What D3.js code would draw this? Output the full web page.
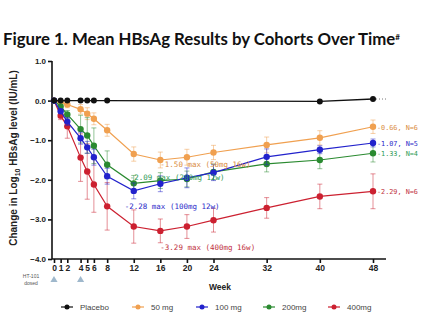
<!DOCTYPE html>
<html>
<head>
<meta charset="utf-8">
<script src="https://cdn.jsdelivr.net/npm/d3@7"></script>
<style>
  body { margin: 0; background: #fff; }
  svg { display: block; }
  .axis path, .axis line { stroke: #111; stroke-width: 1.6; }
  .axis text { font-family: "Liberation Sans", Arial, sans-serif; font-weight: bold; font-size: 8px; fill: #222; }
  .note { font-family: "DejaVu Sans Mono", monospace; font-size: 7.5px; }
</style>
</head>
<body>
<script>
// weeks on the x axis
var weeks = [0, 1, 2, 4, 5, 6, 8, 12, 16, 20, 24, 32, 40, 48];
var yTicks = [1, 0, -1, -2, -3, -4];

// placebo only has points early and late
var placeboWeeks = [0, 1, 2, 4, 5, 6, 8, 40, 48];
var placeboMean = [0, 0, 0, 0, 0, 0, 0, -0.02, 0.04];

// mean change and error (SD) per cohort
var mg50Mean = [0, -0.04, -0.1, -0.22, -0.33, -0.46, -0.75, -1.35, -1.5, -1.43, -1.31, -1.12, -0.94, -0.66];
var mg50Err = [0, 0.05, 0.08, 0.12, 0.15, 0.15, 0.15, 0.18, 0.2, 0.2, 0.18, 0.2, 0.18, 0.17];
var mg100Mean = [0, -0.27, -0.53, -0.95, -1.18, -1.43, -1.91, -2.28, -2.1, -1.95, -1.82, -1.42, -1.24, -1.07];
var mg100Err = [0, 0.05, 0.1, 0.15, 0.15, 0.2, 0.2, 0.2, 0.2, 0.25, 0.2, 0.2, 0.1, 0.1];
var mg200Mean = [0, -0.15, -0.35, -0.72, -0.88, -1.14, -1.62, -2.09, -2.02, -1.98, -1.8, -1.6, -1.5, -1.33];
var mg200Err = [0, 0.05, 0.1, 0.35, 0.45, 0.45, 0.35, 0.2, 0.2, 0.2, 0.2, 0.2, 0.22, 0.22];
var mg400Mean = [0, -0.38, -0.65, -1.44, -1.79, -2.12, -2.67, -3.18, -3.29, -3.18, -3.02, -2.71, -2.42, -2.29];
var mg400Err = [0, 0.1, 0.3, 0.6, 0.7, 0.7, 0.6, 0.42, 0.3, 0.3, 0.3, 0.26, 0.31, 0.44];

var legendNames = ["Placebo", "50 mg", "100 mg", "200mg", "400mg"];
var endLabels = ["-0.66, N=6", "-1.07, N=5", "-1.33, N=4", "-2.29, N=6"];

var width = 438, height = 315;

var x = d3.scaleLinear().domain([0, 48]).range([54, 373]);
var y = d3.scaleLinear().domain([-4, 1]).range([259, 61]);

var svg = d3.select("body").append("svg")
    .attr("width", width)
    .attr("height", height);

// title
var title = svg.append("text")
    .attr("x", 3).attr("y", 45)
    .style("font-family", "Lato, 'Open Sans', sans-serif")
    .style("font-weight", "bold")
    .style("font-size", "16.8px")
    .attr("fill", "#111")
    .text("Figure 1. Mean HBsAg Results by Cohorts Over Time");
title.append("tspan").attr("dy", -5).style("font-size", "8px").text("#");

// y axis label
var yl = svg.append("text")
    .attr("transform", "translate(17,158) rotate(-90)")
    .attr("text-anchor", "middle")
    .style("font-family", "'Liberation Sans', Arial, sans-serif")
    .style("font-weight", "bold")
    .style("font-size", "10px")
    .attr("fill", "#222");
yl.append("tspan").text("Change in Log");
yl.append("tspan").attr("dy", 2.5).style("font-size", "7px").text("10");
yl.append("tspan").attr("dy", -2.5).text(" HBsAg level (IU/mL)");

// axes
var yAxis = d3.axisLeft(y).tickValues(yTicks).tickFormat(d3.format(".1f")).tickSize(4).tickPadding(2);
var xAxis = d3.axisBottom(x).tickValues(weeks).tickSize(4).tickPadding(2);

svg.append("g").attr("class", "axis y")
    .attr("transform", "translate(52,0)")
    .call(yAxis)
    .call(function(g) { g.select(".domain").attr("d", "M0," + y(1) + "V" + y(-4)); });

svg.append("g").attr("class", "axis x")
    .attr("transform", "translate(0," + y(-4) + ")")
    .call(xAxis)
    .call(function(g) { g.select(".domain").attr("d", "M52,0H386"); })
    .selectAll("text").style("font-size", "8.5px");

svg.append("text")
    .attr("x", 220).attr("y", 290)
    .attr("text-anchor", "middle")
    .style("font-family", "'Liberation Sans', Arial, sans-serif")
    .style("font-weight", "bold").style("font-size", "8.5px")
    .attr("fill", "#222")
    .text("Week");

// dosing triangles at week 0 and 4
var doseWeeks = [0, 4];
svg.selectAll(".dose").data(doseWeeks).enter().append("path")
    .attr("class", "dose")
    .attr("d", d3.symbol().type(d3.symbolTriangle).size(22))
    .attr("transform", function(d) { return "translate(" + x(d) + ",280)"; })
    .attr("fill", "#9fb8cc");
svg.append("text").attr("x", 31).attr("y", 278).attr("text-anchor", "middle")
    .style("font-family", "'Liberation Sans', Arial, sans-serif").style("font-size", "5px")
    .attr("fill", "#555").text("HT-101");
svg.append("text").attr("x", 31).attr("y", 285).attr("text-anchor", "middle")
    .style("font-family", "'Liberation Sans', Arial, sans-serif").style("font-size", "5px")
    .attr("fill", "#555").text("dosed");

// series
var series = [
  {name: legendNames[1], color: "#f0a050", text: "#d98a3c", mean: mg50Mean, err: mg50Err},
  {name: legendNames[4], color: "#cc2030", text: "#c03040", mean: mg400Mean, err: mg400Err},
  {name: legendNames[3], color: "#2a8a30", text: "#2e9a55", mean: mg200Mean, err: mg200Err},
  {name: legendNames[2], color: "#2222cc", text: "#2a2ac8", mean: mg100Mean, err: mg100Err}
];

var line = d3.line()
    .x(function(d) { return x(d.w); })
    .y(function(d) { return y(d.v); });

series.forEach(function(s) {
  var pts = weeks.map(function(w, i) { return {w: w, v: s.mean[i], e: s.err[i]}; });
  var g = svg.append("g");
  var eb = g.selectAll(".eb").data(pts.filter(function(d) { return d.e > 0; })).enter().append("g")
      .attr("stroke", s.color).attr("stroke-opacity", 0.5).attr("stroke-width", 1);
  eb.append("line")
      .attr("x1", function(d) { return x(d.w); }).attr("x2", function(d) { return x(d.w); })
      .attr("y1", function(d) { return y(d.v + d.e); }).attr("y2", function(d) { return y(d.v - d.e); });
  eb.append("line")
      .attr("x1", function(d) { return x(d.w) - 2.5; }).attr("x2", function(d) { return x(d.w) + 2.5; })
      .attr("y1", function(d) { return y(d.v + d.e); }).attr("y2", function(d) { return y(d.v + d.e); });
  eb.append("line")
      .attr("x1", function(d) { return x(d.w) - 2.5; }).attr("x2", function(d) { return x(d.w) + 2.5; })
      .attr("y1", function(d) { return y(d.v - d.e); }).attr("y2", function(d) { return y(d.v - d.e); });
  g.append("path").datum(pts).attr("d", line)
      .attr("fill", "none").attr("stroke", s.color).attr("stroke-width", 1.2);
  g.selectAll("circle").data(pts).enter().append("circle")
      .attr("cx", function(d) { return x(d.w); })
      .attr("cy", function(d) { return y(d.v); })
      .attr("r", 3.2).attr("fill", s.color);
});

// placebo on top
var pPts = placeboWeeks.map(function(w, i) { return {w: w, v: placeboMean[i]}; });
svg.append("path").datum(pPts).attr("d", line)
    .attr("fill", "none").attr("stroke", "#111").attr("stroke-width", 1.4);
svg.append("line")
    .attr("x1", x(48)).attr("x2", x(50))
    .attr("y1", y(placeboMean[8])).attr("y2", y(placeboMean[8]))
    .attr("stroke", "#777").attr("stroke-width", 1).attr("stroke-dasharray", "1,2");
svg.selectAll(".pc").data(pPts).enter().append("circle")
    .attr("cx", function(d) { return x(d.w); })
    .attr("cy", function(d) { return y(d.v); })
    .attr("r", 3).attr("fill", "#111");

// end-of-study labels
var endSeries = [series[0], series[3], series[2], series[1]];
endSeries.forEach(function(s, i) {
  svg.append("text").attr("class", "note")
      .attr("x", x(48) + 4).attr("y", y(s.mean[13]) + 3)
      .style("font-size", "6.8px")
      .attr("fill", s.text).text(endLabels[i]);
});

// max-decline annotations
var notes = [
  {s: series[0], w: 16, dx: 0, dy: 7, t: "-1.50 max (50mg 16w)"},
  {s: series[2], w: 12, dx: -4, dy: -3, t: "-2.09 max (200mg 12w)"},
  {s: series[3], w: 12, dx: -9, dy: 18, t: "-2.28 max (100mg 12w)"},
  {s: series[1], w: 16, dx: 0, dy: 19, t: "-3.29 max (400mg 16w)"}
];
notes.forEach(function(n) {
  var i = weeks.indexOf(n.w);
  svg.append("text").attr("class", "note")
      .attr("x", x(n.w) + n.dx).attr("y", y(n.s.mean[i]) + n.dy)
      .attr("fill", n.s.text).text(n.t);
});

// legend
var legColors = ["#111", "#f0a050", "#2222cc", "#2a8a30", "#cc2030"];
var legX = [67, 138, 202, 269, 334];
var leg = svg.selectAll(".leg").data(legendNames).enter().append("g")
    .attr("transform", function(d, i) { return "translate(" + legX[i] + ",307)"; });
leg.append("line").attr("x1", -6).attr("x2", 6)
    .attr("stroke", function(d, i) { return legColors[i]; }).attr("stroke-width", 1.2);
leg.append("circle").attr("r", 2.5).attr("fill", function(d, i) { return legColors[i]; });
leg.append("text").attr("x", 13).attr("y", 3)
    .style("font-family", "'Liberation Sans', Arial, sans-serif").style("font-size", "8px")
    .attr("fill", "#444").text(function(d) { return d; });
</script>
</body>
</html>
